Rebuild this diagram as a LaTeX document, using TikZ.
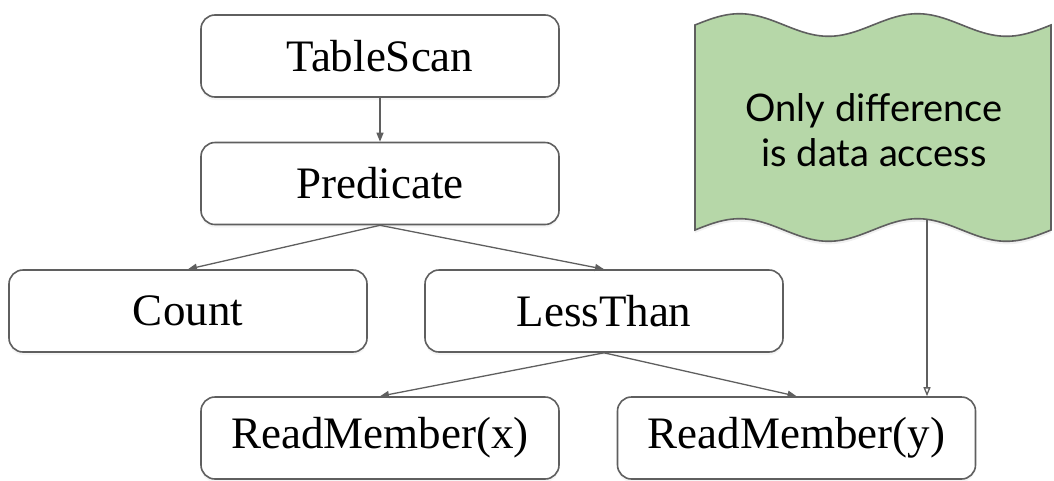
\documentclass[tikz,border=0pt]{standalone}
\usepackage{fontspec}
\setmainfont{Liberation Serif}
\newfontfamily\notefont{Lato}
\usepackage{tikz}
\usetikzlibrary{
    calc,
    arrows.meta,
    shadows
}
\definecolor{edgegray}{HTML}{5F5F5F}
\definecolor{notegreen}{HTML}{B6D7A8}
\tikzset{
    opbox/.style={draw=edgegray,line width=1.6pt,fill=white,rounded corners=14pt,
        minimum width=358pt,minimum height=82pt,inner sep=0pt,
        font=\fontsize{45}{52}\selectfont,
        drop shadow={shadow xshift=0pt,shadow yshift=-3pt,opacity=0.08}},
    flow/.style={draw=edgegray,line width=1.3pt,-{Triangle[length=9pt,width=7pt]}},
    noteflow/.style={draw=edgegray,line width=1.3pt,-{Triangle[open,length=9pt,width=7pt]}},
    banner/.style={draw=edgegray,line width=1.6pt,fill=notegreen,
        drop shadow={shadow xshift=0pt,shadow yshift=-3pt,opacity=0.12}}
}
\begin{document}
\begin{tikzpicture}[x=1pt,y=-1pt]
%\draw [help lines](0,0) grid (1054,480);
\useasboundingbox (0,0) rectangle (1054,480);
\node [opbox] (scan) at (380,56) {TableScan};
\node [opbox] (pred) at (380,183.5) {Predicate};
\node [opbox] (cnt) at (188,311) {Count};
\node [opbox] (less) at (604,311) {LessThan};
\node [opbox] (readx) at (380,438) {ReadMember(x)};
\node [opbox] (ready) at (796.5,438) {ReadMember(y)};
\draw [flow] (scan.south) -- (pred.north);
\draw [flow] (pred.south) -- (cnt.north);
\draw [flow] (pred.south) -- (less.north);
\draw [flow] (less.south) -- (readx.north);
\draw [flow] (less.south) -- (ready.north);
% note banner
\draw [banner] plot[domain=0:720,samples=90,smooth] ({695+0.49444*\x},{25-11.3*sin(\x)})
    -- plot[domain=720:0,samples=90,smooth] ({695+0.49444*\x},{230-11.3*sin(\x)}) -- cycle;
\node [font=\notefont\fontsize{38}{45}\selectfont,align=center] (note) at (874,130)
    {Only difference\\is data access};
\coordinate (foot) at (927,218.7);
\draw [noteflow] (foot) -- (foot |- ready.north);
\end{tikzpicture}
\end{document}
